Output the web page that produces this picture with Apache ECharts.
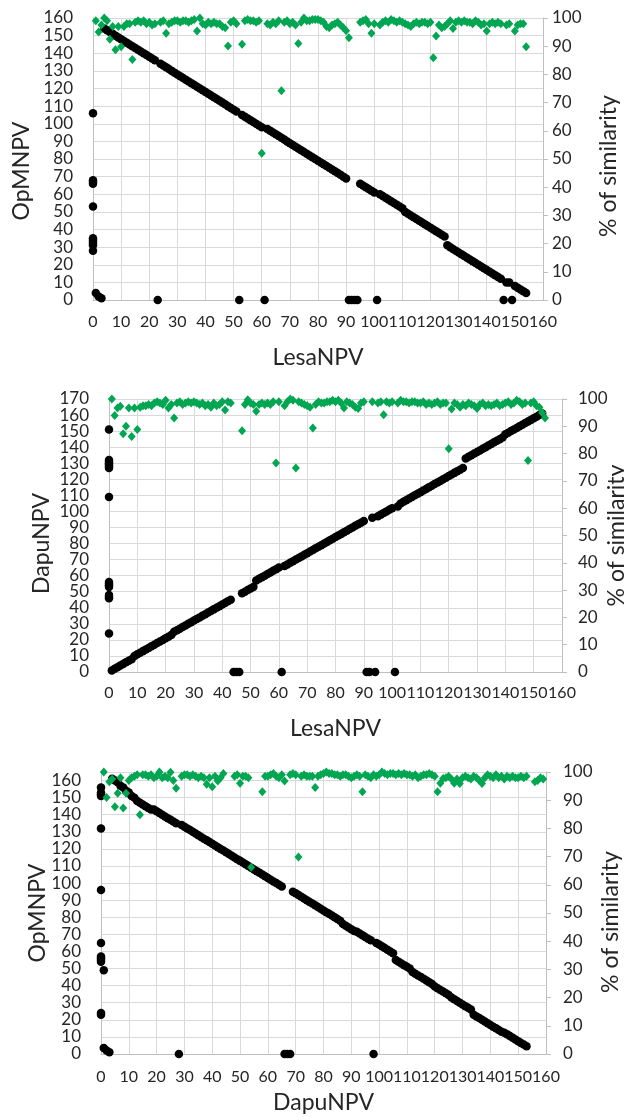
<!DOCTYPE html>
<html>
<head>
<meta charset="utf-8">
<script src="https://cdn.jsdelivr.net/npm/echarts@6/dist/echarts.min.js"></script>
<style>
  html, body { margin: 0; padding: 0; background: #fff; }
  #chart { width: 624px; height: 1117px; }
</style>
</head>
<body>
<div id="chart"></div>
<script>
// ---- panel 1: LesaNPV (x) vs OpMNPV (y) ----
// OpMNPV ORF for LesaNPV ORF 1..154 (0 = no homolog)
const lesaOpm = [4,2,1,154,153,152,151,150,149,148,147,146,145,144,143,142,141,140,139,138,137,136,0,
  134,133,132,131,130,129,128,127,126,125,124,123,122,121,120,119,118,117,116,115,114,113,112,111,110,109,108,107,0,
  105,104,103,102,101,100,99,98,0,97,96,95,94,93,92,91,90,89,88,87,86,85,84,83,82,81,80,79,78,77,76,75,74,73,72,71,70,69,
  0,0,0,0,66,65,64,63,62,61,0,60,59,58,57,56,55,54,53,52,50,49,48,47,46,45,44,43,42,41,40,39,38,37,36,
  31,30,29,28,27,26,25,24,23,22,21,20,19,18,17,16,15,14,13,12,0,10,10,0,8,7,6,5,4]
// OpMNPV ORFs without a LesaNPV homolog (plotted at x = 0)
const opmOnlyVsLesa = [106,68,67,66,53,35,34,33,32,31,28]
// % similarity for LesaNPV ORF 1..154
const lesaOpmSim = [99,95,97.5,100,99,92.5,97,88.7,97,89.8,
  97,98,98,85.3,98.5,99,98.5,99,98,98.5,
  97.5,98,null,98.5,99,94.6,98,98.5,99,99,
  98.5,99,99,98.5,99,99.5,95.4,100,98,97.5,
  98.5,98,98.5,98,98,97,96.5,90.1,98.5,99,
  98,null,90.7,99,99.5,99,99,98.5,99,52,
  null,98,97.5,98.5,98,99,74.2,98.5,99,98,
  98.5,97.5,91,98.5,100,99,99,99.5,99.5,99.5,
  99,98.5,97,96.5,97.5,98,98.5,97.5,96.5,95.5,
  93,null,null,null,98.5,99,99.5,98,94.6,98,
  null,97.5,98.5,99,98.5,99.5,99,98.5,99,98.5,
  98,97.5,97,98,98.5,98,98.5,98.5,98,98.5,
  85.9,93.6,97.5,96.5,97,98,99,96.3,98.5,99,
  98.5,99,98.5,98.5,98,99,98.5,97.5,98,95.4,
  98,98.5,98,98.5,98,null,97.5,98,null,95.4,
  97.5,98,98,89.8]

// ---- panel 2: LesaNPV (x) vs DapuNPV (y) ----
const lesaDapu = [1,2,3,4,5,6,7,8,10,11,12,13,14,15,16,17,18,19,20,21,22,23,25,26,27,28,29,30,31,32,33,34,35,36,37,38,39,40,41,42,43,44,45,
  0,0,0,49,50,51,52,53,57,58,59,60,61,62,63,64,65,0,
  66,67,68,69,70,71,72,73,74,75,76,77,78,79,80,81,82,83,84,85,86,87,88,89,90,91,92,93,94,
  0,0,96,0,97,98,99,100,101,102,0,
  103,105,106,107,108,109,110,111,112,113,114,115,116,117,118,119,120,121,122,123,124,125,126,127,
  133,134,135,136,137,138,139,140,141,142,143,144,145,146,
  148,149,150,151,152,153,154,155,156,157,158,159,160,161]
const dapuOnlyVsLesa = [151,132,131,130,129,128,127,109,56,55,54,53,48,47,46,24]
const lesaDapuSim = [100,94,96.7,97.3,87.3,90,96.7,86.3,96.7,88.8,
  97,97.5,97.5,98,97.5,98.5,99,98.5,98,99.5,
  96.7,98,93,98.5,99,98,98.5,99,98.5,99,
  98.5,98,98.5,97.5,98,97,98.5,97.5,98,99,
  96,99,98.5,null,null,null,88.4,98,99.7,98.5,
  98,95.5,98,98.5,98,98.5,98,99,76.6,99,
  null,97.5,99,100,99.5,74.7,99,98.5,98,97.5,
  97,89.4,98,99,98.5,98.5,99,99,99.5,99,
  99.5,98.5,96.7,99,98.5,98,97,96.5,98.5,99,
  null,null,99,null,98.5,99,94.2,99,98.5,99,
  null,98.5,99.5,99,99,98.5,99,99,98.5,98.5,
  99,98,98.5,98,98.5,99,98,98.5,98.5,81.8,
  96.3,98.5,98,97,98,97.5,98.5,98,97.5,96.5,
  98,98.5,97.5,98,97.5,98,98.5,97.5,98,98.5,
  99,98,98.5,99.5,99,98,98.5,77.5,98.5,99,
  97.5,97,95,93]

// ---- panel 3: DapuNPV (x) vs OpMNPV (y) ----
const dapuOpm = [3.5,2,1,161,160,159,157,156,154,153,151,150,148,
  147,146,145,144,143,143,142,141,140,139,138,137,136,135,0,
  134,133,132,131,130,129,128,127,126,125,124,123,122,121,120,119,118,117,116,115,114,113,112,111,110,109,108,107,106,105,104,103,102,101,100,99,98,
  0,0,0,95,94,93,92,91,90,89,88,87,86,85,84,83,82,81,80,79,78,
  76,75,74,73,72,71.5,70.5,69.5,68.5,67.5,66.5,0,
  65,64,63,62,61,60,59,55,54,53,52,51,50,
  48,47,46,45,44,43,42,41,39.5,38.5,37.5,36.5,35.5,34.5,33,32,31,30,29,28,27,26,
  23,22,21,20,19,18,17,16,15,14,13,12.5,11.5,10.5,9.5,8.5,7.5,6.5,5.5,4.5]
const opmOnlyVsDapu = [156,153,152,151,132,96,65,57,56,55,54,24,23]
const opmNearAxisVsDapu = [[1, 49]]
const dapuOpmSim = [100,91,96.5,97.5,87.7,92.5,98,87.2,92.5,97,
  98,98.5,99,84.8,99,99,98.5,99,98,98.5,
  100,98,98.5,98,99.9,97,94.2,null,98.5,99,
  99,98.5,99,98.5,98,98.5,98,95.7,98,94.8,
  98.5,96.8,98,99.5,null,null,null,98.5,99,96,
  98.5,98.5,98,66.2,null,null,null,93,98.5,98.5,
  99,99.5,98.5,98,99,96.8,null,99,99.5,99,
  69.9,98.5,99,98.5,98.5,98.5,94.5,98.5,99,99.5,
  100,99.5,99.5,99,99,98.5,99,99,98.5,98,
  98.5,99,98.5,93,99,98.5,98,99,98.5,99,
  100,99.5,99,99.5,99.5,99,99.5,99,99.5,99,
  99,98.5,99,98,98.5,99,99,99.5,99,98.5,
  93,96,97.7,98,98.5,97.5,96,97.5,95.9,98,
  98.5,98,97.5,98.5,98,97,95.9,98,99,98.5,
  98,99,98,98.5,97.5,98.5,98,98.5,98,98,
  98.5,98,98.5,null,null,96.5,97,98,97.5]

const FONT = 'Lato, "Open Sans", sans-serif'
const TEXT = '#262626'
const GREEN = '#00a651'

function indexed(values) {
  const pts = []
  values.forEach((v, i) => { if (v !== null) pts.push([i + 1, v]) })
  return pts
}

function onAxis(values) {
  return values.map(v => [0, v])
}

// only multiples of 10 get a label; the axis end sits a hair past the last tick
function tenLabel(v) {
  return Math.abs(v % 10) < 1e-6 ? '{v|' + Math.round(v) + '}' : ''
}
function zeroOnly(v) {
  return v === 0 ? '{v|0}' : ''
}

const panels = [
  { grid: { left: 93, top: 18, width: 450, height: 282 }, xName: 'LesaNPV', yName: 'OpMNPV', yMax: 160.0001,
    xGap: 46, xMargin: 14, yGap: 60, yShift: 24, rGap: 54, rShift: 14, rMargin: 9, tightY: false,
    line: lesaOpm, only: opmOnlyVsLesa, extra: [], sim: lesaOpmSim },
  { grid: { left: 109, top: 399, width: 453, height: 273 }, xName: 'LesaNPV', yName: 'DapuNPV', yMax: 170.0001,
    xGap: 45, xMargin: 13, yGap: 56, yShift: 16, rGap: 43, rShift: 0, rMargin: 16, tightY: true,
    line: lesaDapu, only: dapuOnlyVsLesa, extra: [], sim: lesaDapuSim },
  { grid: { left: 101, top: 772, width: 445, height: 282 }, xName: 'DapuNPV', yName: 'OpMNPV', yMax: 165,
    xGap: 37, xMargin: 15, yGap: 52, yShift: 0, rGap: 53, rShift: 18, rMargin: 17, tightY: false,
    line: dapuOpm, only: opmOnlyVsDapu, extra: opmNearAxisVsDapu, sim: dapuOpmSim }
]

const nameStyle = { fontFamily: FONT, fontSize: 23, color: TEXT }
const labelStyle = { fontFamily: FONT, fontSize: 17, color: TEXT }
const gridLine = { show: true, lineStyle: { color: '#d9d9d9', width: 1 } }
const axisLine = { show: true, onZero: false, lineStyle: { color: '#bfbfbf', width: 1 } }
const xLabel = { formatter: tenLabel, showMinLabel: true, showMaxLabel: false,
  rich: { v: { width: 24, align: 'center', fontFamily: FONT, fontSize: 16, color: TEXT } } }
const yRich = { v: { fontFamily: FONT, fontSize: 17, color: TEXT } }

const option = { animation: false, backgroundColor: '#fff', grid: [], xAxis: [], yAxis: [], series: [] }
const helperAxes = []

panels.forEach((p, i) => {
  option.grid.push(Object.assign({ outerBoundsMode: 'none' }, p.grid))
  option.xAxis.push({
    type: 'value', gridIndex: i, min: 0, max: 160.0001, interval: 10,
    name: p.xName, nameLocation: 'middle', nameGap: p.xGap, nameTextStyle: nameStyle, nameMoveOverlap: false,
    axisLine: axisLine, axisTick: { show: false },
    axisLabel: Object.assign({ margin: p.xMargin }, xLabel),
    splitLine: gridLine
  })
  option.yAxis.push({
    type: 'value', gridIndex: i, position: 'left', min: 0, max: p.yMax, interval: 10,
    name: p.yName, nameLocation: 'middle', nameGap: p.yGap, nameRotate: 90, nameMoveOverlap: false,
    nameTextStyle: Object.assign({ padding: [0, p.yShift, 0, 0] }, nameStyle),
    axisLine: axisLine, axisTick: { show: false },
    axisLabel: { margin: 20, formatter: tenLabel, rich: yRich, showMinLabel: !p.tightY, showMaxLabel: false },
    splitLine: gridLine
  })
  option.yAxis.push({
    type: 'value', gridIndex: i, position: 'right', min: 0, max: 100, interval: 10,
    name: '% of similarity', nameLocation: 'middle', nameGap: p.rGap, nameRotate: 90, nameMoveOverlap: false,
    nameTextStyle: Object.assign({ padding: [0, p.rShift, 0, 0] }, nameStyle),
    axisLine: axisLine, axisTick: { show: true, length: 5, lineStyle: { color: '#bfbfbf' } },
    axisLabel: Object.assign({ margin: p.rMargin, showMinLabel: true, showMaxLabel: true }, labelStyle),
    splitLine: { show: false }
  })
  if (p.tightY) {
    // labels are packed tighter than the font: the bottom "0" comes from a bare twin axis
    helperAxes.push({
      type: 'value', gridIndex: i, position: 'left', min: 0, max: p.yMax, interval: 10,
      axisLine: { show: false }, axisTick: { show: false }, splitLine: { show: false },
      axisLabel: { margin: 20, formatter: zeroOnly, rich: yRich, showMinLabel: true, showMaxLabel: false }
    })
  }
  const black = { type: 'scatter', xAxisIndex: i, yAxisIndex: 2 * i, symbol: 'circle', symbolSize: 8.5,
    itemStyle: { color: '#000', opacity: 1 }, silent: true }
  option.series.push(Object.assign({}, black, { data: onAxis(p.only).concat(p.extra) }))
  option.series.push(Object.assign({}, black, { data: indexed(p.line) }))
  option.series.push({
    type: 'scatter', xAxisIndex: i, yAxisIndex: 2 * i + 1, symbol: 'diamond', symbolSize: [8, 9],
    itemStyle: { color: GREEN, opacity: 1 }, silent: true, data: indexed(p.sim)
  })
})
option.yAxis = option.yAxis.concat(helperAxes)

const myChart = echarts.init(document.getElementById('chart'), null, { renderer: 'canvas' })
myChart.setOption(option)
</script>
</body>
</html>
